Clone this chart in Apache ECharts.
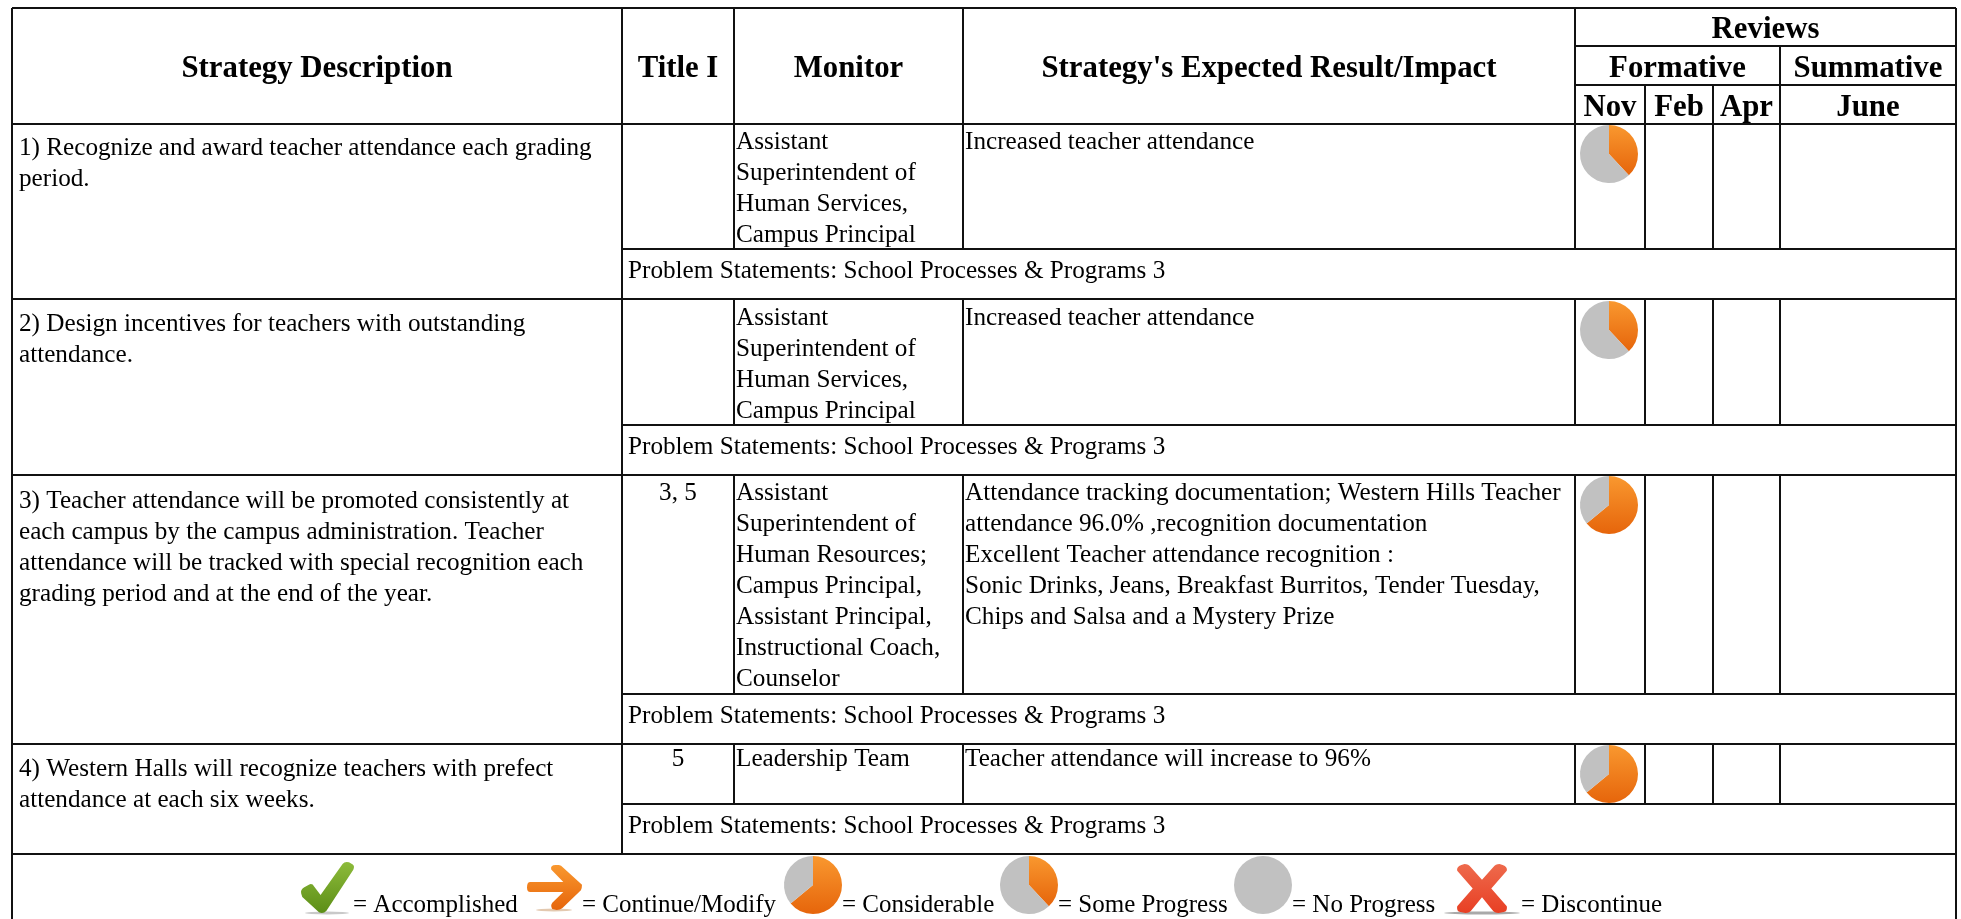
<!DOCTYPE html>
<html>
<head>
<meta charset="utf-8">
<title>Strategy review table</title>
<script src="https://cdn.jsdelivr.net/npm/echarts@6/dist/echarts.min.js"></script>
<style>
  html, body { margin: 0; padding: 0; background: #fff; }
  #chart { width: 1961px; height: 919px; }
</style>
</head>
<body>
<div id="chart"></div>
<script>
// table content
const mainHeaders = ['Strategy Description', 'Title I', 'Monitor', "Strategy's Expected Result/Impact"]
const reviewHeader = 'Reviews'
const reviewGroups = ['Formative', 'Summative']
const reviewMonths = ['Nov', 'Feb', 'Apr', 'June']
const strategies = [
  ['1) Recognize and award teacher attendance each grading', 'period.'],
  ['2) Design incentives for teachers with outstanding', 'attendance.'],
  ['3) Teacher attendance will be promoted consistently at', 'each campus by the campus administration. Teacher', 'attendance will be tracked with special recognition each', 'grading period and at the end of the year.'],
  ['4) Western Halls will recognize teachers with prefect', 'attendance at each six weeks.']
]
const titleOne = ['', '', '3, 5', '5']
const monitors = [
  ['Assistant', 'Superintendent of', 'Human Services,', 'Campus Principal'],
  ['Assistant', 'Superintendent of', 'Human Services,', 'Campus Principal'],
  ['Assistant', 'Superintendent of', 'Human Resources;', 'Campus Principal,', 'Assistant Principal,', 'Instructional Coach,', 'Counselor'],
  ['Leadership Team']
]
const impacts = [
  ['Increased teacher attendance'],
  ['Increased teacher attendance'],
  ['Attendance tracking documentation; Western Hills Teacher', 'attendance 96.0% ,recognition documentation', 'Excellent Teacher attendance recognition :', 'Sonic Drinks, Jeans, Breakfast Burritos, Tender Tuesday,', 'Chips and Salsa and a Mystery Prize'],
  ['Teacher attendance will increase to 96%']
]
const problemStatement = 'Problem Statements: School Processes & Programs 3'
// share of the Nov review pie that is done, one per strategy
const novProgress = [38, 38, 64, 64]

// legend
const legendLabels = ['= Accomplished', '= Continue/Modify', '= Considerable', '= Some Progress', '= No Progress', '= Discontinue']
const legendProgress = [64, 38, 0]

// layout, in page pixels
const colX = [12, 622, 734, 963, 1575, 1645, 1713, 1780, 1956]
const rowTop = [124, 299, 475, 744]
const rowMid = [249, 425, 694, 804]
const rowEnd = [299, 475, 744, 854]
const headY = [8, 46, 85]
const pageBottom = 919
const strategyY = [148, 324, 501, 769]
const cellY = [142, 318, 493, 759]
const novPieY = [154, 330, 505, 774]
const pieX = 1609
const pieR = 29
const lineGap = 31
const legendTextX = [353, 582, 842, 1058, 1292, 1521]
const legendPieX = [813, 1029, 1263]
const legendPieY = 885

const BODY = '25.2px "Liberation Serif"'
const HEAD = 'bold 30.8px "Liberation Serif"'
const LEGEND = '25px "Liberation Serif"'

const ruleColor = '#111'
const orange = {
  type: 'linear', x: 0, y: 0, x2: 0, y2: 1,
  colorStops: [{ offset: 0, color: '#f9982f' }, { offset: 1, color: '#e6650b' }]
}
const gray = '#c1c1c1'

// rules as [x0, y0, x1, y1]
const rules = []
rules.push([colX[0], headY[0], colX[8], headY[0]])
rules.push([colX[4], headY[1], colX[8], headY[1]])
rules.push([colX[4], headY[2], colX[8], headY[2]])
rules.push([colX[0], rowTop[0], colX[8], rowTop[0]])
rules.push([colX[0], headY[0], colX[0], pageBottom])
rules.push([colX[8], headY[0], colX[8], pageBottom])
rules.push([colX[1], headY[0], colX[1], rowEnd[3]])
rules.push([colX[2], headY[0], colX[2], rowTop[0]])
rules.push([colX[3], headY[0], colX[3], rowTop[0]])
rules.push([colX[4], headY[0], colX[4], rowTop[0]])
rules.push([colX[7], headY[1], colX[7], rowTop[0]])
rules.push([colX[5], headY[2], colX[5], rowTop[0]])
rules.push([colX[6], headY[2], colX[6], rowTop[0]])
rowTop.forEach((top, i) => {
  rules.push([colX[1], rowMid[i], colX[8], rowMid[i]])
  rules.push([colX[0], rowEnd[i], colX[8], rowEnd[i]])
  ;[2, 3, 4, 5, 6, 7].forEach(c => rules.push([colX[c], top, colX[c], rowMid[i]]))
})

// text items
const texts = []
function addText(text, x, y, font, align) {
  if (text) texts.push({ text, x, y, font, align: align || 'left' })
}
function centerOf(a, b) {
  return (a + b) / 2
}
mainHeaders.forEach((h, i) => addText(h, centerOf(colX[i], colX[i + 1]), 69.5, HEAD, 'center'))
addText(reviewHeader, centerOf(colX[4], colX[8]), 30, HEAD, 'center')
addText(reviewGroups[0], centerOf(colX[4], colX[7]), 69, HEAD, 'center')
addText(reviewGroups[1], centerOf(colX[7], colX[8]), 69, HEAD, 'center')
reviewMonths.forEach((m, i) => addText(m, centerOf(colX[4 + i], colX[5 + i]), 108, HEAD, 'center'))
strategies.forEach((lines, i) => {
  lines.forEach((l, j) => addText(l, 19, strategyY[i] + j * lineGap, BODY))
  addText(titleOne[i], centerOf(colX[1], colX[2]), cellY[i], BODY, 'center')
  monitors[i].forEach((l, j) => addText(l, colX[2] + 2, cellY[i] + j * lineGap, BODY))
  impacts[i].forEach((l, j) => addText(l, colX[3] + 2, cellY[i] + j * lineGap, BODY))
  addText(problemStatement, colX[1] + 6, centerOf(rowMid[i], rowEnd[i]) - 3, BODY)
})
legendLabels.forEach((l, i) => addText(l, legendTextX[i], 905, LEGEND))

const checkPath = 'path://M1 62 Q-1 54 6 50 L16 44 Q22 42 25 48 L37 64 L78 5 Q82 0 90 2 L97 6 Q101 9 98 16 L48 94 Q42 101 34 97 L3 68 Z'
const arrowPath = 'path://M6 38 L66 38 L44 10 Q42 0 52 0 L58 0 Q62 0 66 6 L100 44 Q100 52 98 56 L64 96 Q60 100 54 100 L46 98 Q42 90 46 84 L66 60 L6 60 Q0 60 0 50 Q0 38 6 38 Z'
const crossPath = 'path://M2 14 Q0 6 10 2 L16 0 Q24 0 28 6 L50 32 L72 6 Q76 0 84 0 L90 2 Q100 6 98 14 L68 50 L98 86 Q100 96 92 98 L82 100 Q74 100 70 94 L50 68 L30 94 Q26 100 18 100 L8 98 Q0 96 2 86 L32 50 Z'

function progressPie(x, y, done) {
  return {
    type: 'pie',
    center: [x, y],
    radius: pieR,
    startAngle: 90,
    silent: true,
    animation: false,
    label: { show: false },
    labelLine: { show: false },
    itemStyle: { borderWidth: 0 },
    data: [
      { value: done, itemStyle: { color: orange } },
      { value: 100 - done, itemStyle: { color: gray } }
    ]
  }
}

function iconSeries(path, x, y, w, h, color) {
  return {
    type: 'scatter',
    silent: true,
    animation: false,
    symbol: path,
    symbolSize: [w, h],
    itemStyle: { color, opacity: 1 },
    data: [[x, y]]
  }
}

const pies = novProgress.map((p, i) => progressPie(pieX, novPieY[i], p))
  .concat(legendProgress.map((p, i) => progressPie(legendPieX[i], legendPieY, p)))

const chart = echarts.init(document.getElementById('chart'), null, { renderer: 'canvas' })
chart.setOption({
  backgroundColor: '#fff',
  animation: false,
  grid: { left: 0, right: 0, top: 0, bottom: 0 },
  xAxis: { type: 'value', min: 0, max: 1961, show: false },
  yAxis: { type: 'value', min: 0, max: 919, inverse: true, show: false },
  series: [
    {
      type: 'custom',
      silent: true,
      clip: false,
      data: rules.map((r, i) => [i]),
      encode: { x: [], y: [] },
      renderItem(params, api) {
        const r = rules[params.dataIndex]
        const a = api.coord([r[0], r[1]])
        const b = api.coord([r[2], r[3]])
        return {
          type: 'line',
          shape: { x1: a[0], y1: a[1], x2: b[0], y2: b[1] },
          style: { stroke: ruleColor, lineWidth: 2 }
        }
      }
    },
    {
      type: 'custom',
      silent: true,
      clip: false,
      data: texts.map((t, i) => [i]),
      encode: { x: [], y: [] },
      renderItem(params, api) {
        const t = texts[params.dataIndex]
        const p = api.coord([t.x, t.y])
        return {
          type: 'text',
          style: { x: p[0], y: p[1], text: t.text, font: t.font, fill: '#000', align: t.align, verticalAlign: 'middle' }
        }
      }
    },
    // soft shadows under the legend icons
    iconSeries('circle', 327, 913, 44, 3, '#c9c9c9'),
    iconSeries('circle', 554, 910, 36, 3, '#e3c9b0'),
    iconSeries('circle', 1482, 913, 76, 3, '#a9a9a9'),
    iconSeries(checkPath, 327.5, 887.5, 53, 51, {
      type: 'linear', x: 0, y: 0, x2: 0, y2: 1,
      colorStops: [{ offset: 0, color: '#8dbb3a' }, { offset: 1, color: '#5c8e17' }]
    }),
    iconSeries(arrowPath, 554.5, 887.5, 55, 45, orange),
    iconSeries(crossPath, 1482, 888.5, 50, 49, {
      type: 'linear', x: 0, y: 0, x2: 0, y2: 1,
      colorStops: [{ offset: 0, color: '#ee6a4c' }, { offset: 1, color: '#e83f24' }]
    })
  ].concat(pies)
})
</script>
</body>
</html>
